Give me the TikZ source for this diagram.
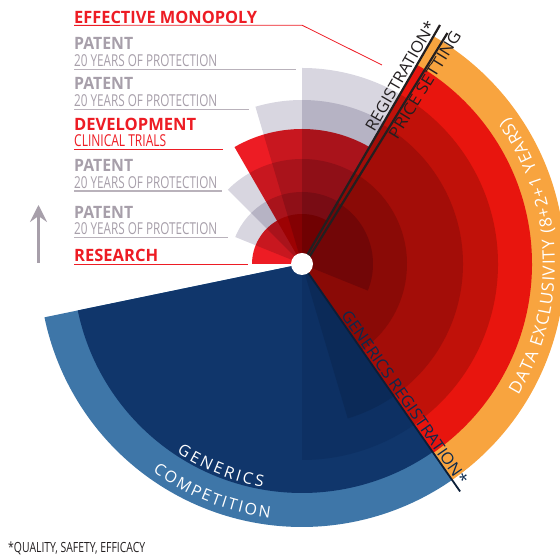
\documentclass[tikz,border=0pt]{standalone}
\usepackage{fontspec}
\usepackage{graphicx}
\setmainfont{Open Sans}
\usetikzlibrary{decorations.text,arrows.meta,calc}

% palette
\definecolor{redtxt}{HTML}{ED1C24}
\definecolor{graytxt}{HTML}{A79FAA}
\definecolor{grayrule}{HTML}{B9B2BB}
\definecolor{inkdark}{HTML}{231F20}
\definecolor{navyink}{HTML}{0B2A4E}
\definecolor{navyline}{HTML}{0B1E38}
\definecolor{fangray}{HTML}{D8D6E0}
\definecolor{fanred}{HTML}{ED1C24}
\definecolor{ringorange}{HTML}{F8A43F}
\definecolor{redA}{HTML}{E8150E}
\definecolor{redB}{HTML}{C01109}
\definecolor{redC}{HTML}{A30D08}
\definecolor{redD}{HTML}{8A0A06}
\definecolor{redE}{HTML}{720607}
\definecolor{blueLight}{HTML}{3E76A8}
\definecolor{blueDark}{HTML}{10366B}
\definecolor{blueDeep}{HTML}{0D3063}
\definecolor{blueDeeper}{HTML}{0B2A58}

% fixed-width text helper
\newcommand\fitw[2]{\resizebox{#1}{\height}{#2}}
\newcommand\hdfont{\fontsize{17}{18}\selectfont\bfseries}
\newcommand\sbfont{\fontsize{16.4}{17}\selectfont}
\newcommand\rotfont{\fontsize{16}{17}\selectfont}
\newcommand\notefont{\fontsize{14}{14}\selectfont}
\newcommand\dxfont{\fontsize{17}{17}\selectfont}
\newcommand\gnfont{\fontsize{16}{16}\selectfont}

\begin{document}
\begin{tikzpicture}[x=1pt,y=1pt,
  txt/.style={inner sep=0pt, anchor=base west},
  redrule/.style={draw=redtxt, line width=1.2pt},
  grule/.style={draw=grayrule, line width=1.2pt},
  milestone/.style={draw=inkdark, line width=2.2pt},
  genline/.style={draw=navyline, line width=1.8pt},
  rotlbl/.style={inner sep=0pt, font=\rotfont},
]
\useasboundingbox (0,0) rectangle (560,556);
\coordinate (O) at (302,292);

% ---- generics (blue) half ----
\fill[blueLight] (O) -- ++(191.7:263) arc[start angle=191.7,end angle=304.8,radius=263] -- cycle;
\fill[blueDark] (O) -- ++(191.7:229) arc[start angle=191.7,end angle=304.8,radius=229] -- cycle;
\fill[blueDeep] (O) -- ++(270:196) arc[start angle=270,end angle=304.8,radius=196] -- cycle;
\fill[blueDeeper] (O) -- ++(286.5:161) arc[start angle=286.5,end angle=304.8,radius=161] -- cycle;

% ---- market exclusivity (red) rings ----
\fill[ringorange] (O) -- ++(-55.2:263) arc[start angle=-55.2,end angle=60,radius=263] -- cycle;
\fill[redA] (O) -- ++(-55.2:230) arc[start angle=-55.2,end angle=60,radius=230] -- cycle;
\fill[redB] (O) -- ++(-55.2:196) arc[start angle=-55.2,end angle=60,radius=196] -- cycle;
\fill[redC] (O) -- ++(-55.2:161) arc[start angle=-55.2,end angle=60,radius=161] -- cycle;
\fill[redD] (O) -- ++(-55.2:105) arc[start angle=-55.2,end angle=60,radius=105] -- cycle;
\fill[redE] (O) -- ++(-22:71) arc[start angle=-22,end angle=60,radius=71] -- cycle;

% ---- development fan: overlapping layers ----
\begin{scope}[blend mode=multiply]
\fill[fangray] (O) -- ++(60:196) arc[start angle=60,end angle=90,radius=196] -- cycle;
\fill[fangray] (O) -- ++(60:164) arc[start angle=60,end angle=106.5,radius=164] -- cycle;
\fill[fanred] (O) -- ++(60:135) arc[start angle=60,end angle=120,radius=135] -- cycle;
\fill[fangray] (O) -- ++(60:105) arc[start angle=60,end angle=135,radius=105] -- cycle;
\fill[fangray] (O) -- ++(60:72) arc[start angle=60,end angle=158,radius=72] -- cycle;
\fill[fanred] (O) -- ++(60:50) arc[start angle=60,end angle=180,radius=50] -- cycle;
\end{scope}

% ---- milestone lines ----
\coordinate (regend) at ($(O)+(60:276)$);
\coordinate (pricestart) at ($(O)+(-31:2.6)$);
\coordinate (priceend) at ($(O)+(57.8:273)$);
\coordinate (genend) at ($(O)+(-55.2:277)$);
\draw[milestone] (O) -- (regend);
\draw[milestone] (pricestart) -- (priceend);
\draw[genline] (O) -- (genend);

\begin{scope}[shift={(O)},rotate=60]
  \node[rotlbl, text=inkdark, rotate=60, anchor=base] (registration) at (212,3)
    {\fitw{124pt}{REGISTRATION*}};
\end{scope}
\begin{scope}[shift={(O)},rotate=58.4]
  \node[rotlbl, text=inkdark, rotate=58.4, anchor=north] (pricesetting) at (217,-4.5)
    {\fitw{123pt}{PRICE SETTING}};
\end{scope}
\begin{scope}[shift={(O)},rotate=-55.2]
  \node[rotlbl, text=navyink, rotate=-55.2, anchor=base] (genreg) at (168,2.5)
    {\fitw{208pt}{GENERICS REGISTRATION*}};
\end{scope}

% ---- curved ring captions ----
\path[decorate, decoration={text along path, text align=fit to path, text color=white,
  text={|\dxfont|DATA EXCLUSIVITY (8+2+1 YEARS)}}]
  ($(O)+(-31.2:253)$) arc[start angle=-31.2,end angle=35.4,radius=253];
\path[decorate, decoration={text along path, text align=fit to path, text color=white,
  text={|\gnfont|GENERICS}}]
  ($(O)+(236.4:226.5)$) arc[start angle=236.4,end angle=260,radius=226.5];
\path[decorate, decoration={text along path, text align=fit to path, text color=white,
  text={|\gnfont|COMPETITION}}]
  ($(O)+(234.3:256)$) arc[start angle=234.3,end angle=262.8,radius=256];

% ---- hub ----
\fill[white] (O) circle[radius=11];

% ---- stage captions ----
\node[txt, text=redtxt] (monopoly) at (74,532) {\fitw{183pt}{\hdfont EFFECTIVE MONOPOLY}};
\coordinate (m0) at (74,530.6);
\coordinate (m1) at (302,530.8);
\coordinate (m2) at (382,491);
\draw[draw=redtxt, line width=0.8pt] (m0) -- (m1) -- (m2);

\node[txt, text=graytxt] (patA) at (74,506) {\fitw{59pt}{\hdfont PATENT}};
\node[txt, text=graytxt] (patAsub) at (74,489.3) {\fitw{143pt}{\sbfont 20 YEARS OF PROTECTION}};
\coordinate (pa0) at (74,486.6); \coordinate (pa1) at (296,486.6);
\draw[grule] (pa0) -- (pa1);

\node[txt, text=graytxt] (patB) at (74,466) {\fitw{59pt}{\hdfont PATENT}};
\node[txt, text=graytxt] (patBsub) at (74,449.3) {\fitw{143pt}{\sbfont 20 YEARS OF PROTECTION}};
\coordinate (pb0) at (74,446.6); \coordinate (pb1) at (249,446.6);
\draw[grule] (pb0) -- (pb1);

\node[txt, text=redtxt] (dev) at (74,425) {\fitw{122pt}{\hdfont DEVELOPMENT}};
\node[txt, text=redtxt] (devsub) at (74,409.3) {\fitw{92pt}{\sbfont CLINICAL TRIALS}};
\coordinate (d0) at (74,406.6); \coordinate (d1) at (223,406.6);
\draw[redrule] (d0) -- (d1);

\node[txt, text=graytxt] (patC) at (74,384.3) {\fitw{59pt}{\hdfont PATENT}};
\node[txt, text=graytxt] (patCsub) at (74,367.7) {\fitw{143pt}{\sbfont 20 YEARS OF PROTECTION}};
\coordinate (pc0) at (74,365); \coordinate (pc1) at (222,365);
\draw[grule] (pc0) -- (pc1);

\node[txt, text=graytxt] (patD) at (74,337.7) {\fitw{59pt}{\hdfont PATENT}};
\node[txt, text=graytxt] (patDsub) at (74,321) {\fitw{143pt}{\sbfont 20 YEARS OF PROTECTION}};
\coordinate (pd0) at (74,318.7); \coordinate (pd1) at (228,318.7);
\draw[grule] (pd0) -- (pd1);

\node[txt, text=redtxt] (research) at (74,294.3) {\fitw{84pt}{\hdfont RESEARCH}};
\coordinate (r0) at (74,291.7); \coordinate (r1) at (248,291.7);
\draw[redrule] (r0) -- (r1);

% ---- time arrow ----
\coordinate (arrfoot) at (38.5,293);
\coordinate (arrtip) at (38.5,351);
\draw[graytxt, line width=3.6pt, -{Stealth[length=17pt,width=17pt,inset=6pt]}] (arrfoot) -- (arrtip);

% ---- footnote ----
\node[txt, text=inkdark] (note) at (8,3) {\fitw{137pt}{\notefont *QUALITY, SAFETY, EFFICACY}};
\end{tikzpicture}
\end{document}
